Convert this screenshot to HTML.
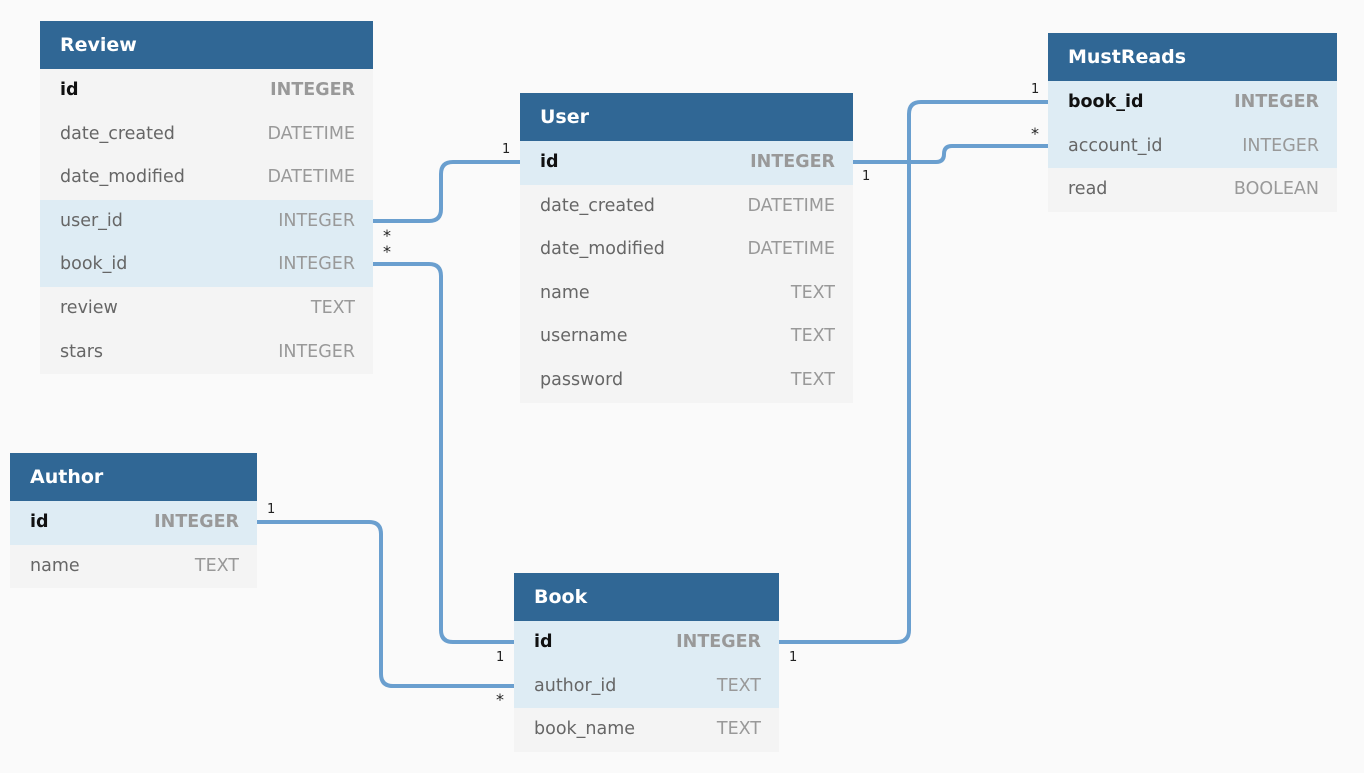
<!DOCTYPE html>
<html><head><style>
body{margin:0;width:1364px;height:773px;background:#fafafa;position:relative;overflow:hidden;font-family:"DejaVu Sans","Liberation Sans",sans-serif;}
.t{position:absolute;}
.h{background:#306795;color:#fff;font-weight:bold;font-size:19px;height:48px;line-height:48px;padding-left:20px;box-sizing:border-box;}
.r{background:#f4f4f4;height:43.6px;line-height:43.6px;font-size:17.5px;color:#666;padding:0 18px 0 20px;display:flex;justify-content:space-between;box-sizing:border-box;}
.r.k{background:#deecf4;}
.r b{color:#111;}
.r span.ty{color:#999;}
.r span.bt{color:#999;font-weight:bold;}
svg{position:absolute;left:0;top:0;}
.l{position:absolute;font-size:13px;color:#222;}
</style></head><body>
<svg width="1364" height="773"><g fill="none" stroke="#6a9fcf" stroke-width="4">
<path d="M373 221 H429 Q441 221 441 209 V174 Q441 162 453 162 H520"/>
<path d="M373 264 H429 Q441 264 441 276 V630 Q441 642 453 642 H514"/>
<path d="M257 522 H369 Q381 522 381 534 V674 Q381 686 393 686 H514"/>
<path d="M779 642 H897 Q909 642 909 630 V114 Q909 102 921 102 H1048"/>
<path d="M853 162 H936 Q944 162 944 154 Q944 146 952 146 H1048"/>
</g></svg>
<div class="t" style="left:40px;top:21px;width:333px">
<div class="h">Review</div>
<div class="r"><b>id</b><span class="bt">INTEGER</span></div>
<div class="r"><span>date_created</span><span class="ty">DATETIME</span></div>
<div class="r"><span>date_modified</span><span class="ty">DATETIME</span></div>
<div class="r k"><span>user_id</span><span class="ty">INTEGER</span></div>
<div class="r k"><span>book_id</span><span class="ty">INTEGER</span></div>
<div class="r"><span>review</span><span class="ty">TEXT</span></div>
<div class="r"><span>stars</span><span class="ty">INTEGER</span></div>
</div>
<div class="t" style="left:520px;top:93px;width:333px">
<div class="h">User</div>
<div class="r k"><b>id</b><span class="bt">INTEGER</span></div>
<div class="r"><span>date_created</span><span class="ty">DATETIME</span></div>
<div class="r"><span>date_modified</span><span class="ty">DATETIME</span></div>
<div class="r"><span>name</span><span class="ty">TEXT</span></div>
<div class="r"><span>username</span><span class="ty">TEXT</span></div>
<div class="r"><span>password</span><span class="ty">TEXT</span></div>
</div>
<div class="t" style="left:1048px;top:33px;width:289px">
<div class="h">MustReads</div>
<div class="r k"><b>book_id</b><span class="bt">INTEGER</span></div>
<div class="r k"><span>account_id</span><span class="ty">INTEGER</span></div>
<div class="r"><span>read</span><span class="ty">BOOLEAN</span></div>
</div>
<div class="t" style="left:10px;top:453px;width:247px">
<div class="h">Author</div>
<div class="r k"><b>id</b><span class="bt">INTEGER</span></div>
<div class="r"><span>name</span><span class="ty">TEXT</span></div>
</div>
<div class="t" style="left:514px;top:573px;width:265px">
<div class="h">Book</div>
<div class="r k"><b>id</b><span class="bt">INTEGER</span></div>
<div class="r k"><span>author_id</span><span class="ty">TEXT</span></div>
<div class="r"><span>book_name</span><span class="ty">TEXT</span></div>
</div>
<div class="l" style="left:502px;top:142px">1</div>
<div class="l" style="left:383px;top:226px;font-size:16px">*</div>
<div class="l" style="left:383px;top:242px;font-size:16px">*</div>
<div class="l" style="left:862px;top:169px">1</div>
<div class="l" style="left:1031px;top:82px">1</div>
<div class="l" style="left:1031px;top:124px;font-size:16px">*</div>
<div class="l" style="left:267px;top:502px">1</div>
<div class="l" style="left:496px;top:650px">1</div>
<div class="l" style="left:496px;top:690px;font-size:16px">*</div>
<div class="l" style="left:789px;top:650px">1</div>
</body></html>
